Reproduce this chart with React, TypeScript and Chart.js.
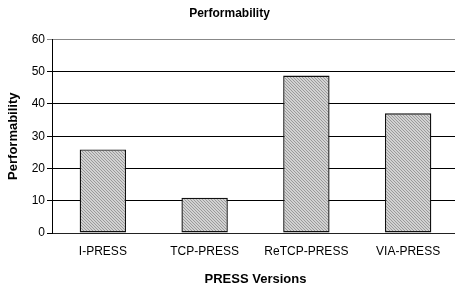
import React, { useEffect, useRef } from "react";
import { Chart, registerables } from "chart.js";

Chart.register(...registerables);

const categories = ["I-PRESS", "TCP-PRESS", "ReTCP-PRESS", "VIA-PRESS"];
const performability = [25.9, 10.9, 48.8, 37.1];
const yTicks = [0, 10, 20, 30, 40, 50, 60];
const chartTitle = "Performability";
const xTitle = "PRESS Versions";
const yTitle = "Performability";

const FONT = "'Liberation Sans', Arial, Helvetica, sans-serif";

function makePattern(): CanvasPattern | string {
  const c = document.createElement("canvas");
  c.width = 3;
  c.height = 3;
  const g = c.getContext("2d");
  if (!g) return "#c0c0c0";
  g.fillStyle = "#d2d2d2";
  g.fillRect(0, 0, 3, 3);
  g.fillStyle = "#9a9a9a";
  for (let i = 0; i < 3; i++) g.fillRect(i, i, 1, 1);
  const p = g.createPattern(c, "repeat");
  return p || "#c0c0c0";
}

export default function App() {
  const ref = useRef<HTMLCanvasElement>(null);
  useEffect(() => {
    document.body.style.margin = "0";
    if (!ref.current) return;
    const chart = new Chart(ref.current, {
      type: "bar",
      data: {
        labels: categories,
        datasets: [
          {
            data: performability,
            backgroundColor: makePattern() as any,
            borderColor: "#111",
            borderWidth: 1.4,
            borderSkipped: false,
            categoryPercentage: 1,
            barPercentage: 0.456,
          },
        ],
      },
      options: {
        responsive: false,
        animation: false,
        layout: { padding: 0 },
        plugins: {
          legend: { display: false },
          tooltip: { enabled: false },
          title: {
            display: true,
            text: chartTitle,
            color: "#000",
            font: { family: FONT, size: 12, weight: "bold" },
            padding: { top: 6, bottom: 19 },
          },
        },
        scales: {
          x: {
            grid: { display: false, drawTicks: false },
            border: { display: true, color: "#222", width: 1 },
            ticks: { color: "#000", font: { family: FONT, size: 12 }, padding: 11 },
            title: {
              display: true,
              text: xTitle,
              color: "#000",
              font: { family: FONT, size: 13, weight: "bold" },
              padding: { top: 0, bottom: 3 },
            },
            afterFit: (s: any) => {
              s.height = 57;
            },
          },
          y: {
            min: 0,
            max: 60,
            afterBuildTicks: (s: any) => {
              s.ticks = yTicks.map((v) => ({ value: v }));
            },
            grid: {
              color: (ctx: any) => (ctx.tick && ctx.tick.value === 60 ? "#888" : "#000"),
              lineWidth: 1,
              tickLength: 5,
              drawTicks: true,
            },
            border: { display: true, color: "#000", width: 1 },
            ticks: { color: "#000", font: { family: FONT, size: 12 }, padding: 2 },
            title: {
              display: true,
              text: yTitle,
              color: "#000",
              font: { family: FONT, size: 13, weight: "bold" },
              padding: { top: 6, bottom: 0 },
            },
            afterFit: (s: any) => {
              s.width = 52;
            },
          },
        },
      },
    });
    return () => chart.destroy();
  }, []);
  return (
    <div style={{ width: 455, height: 290, overflow: "hidden", position: "relative" }}>
      <canvas ref={ref} width={459} height={290} style={{ display: "block" }} />
    </div>
  );
}
